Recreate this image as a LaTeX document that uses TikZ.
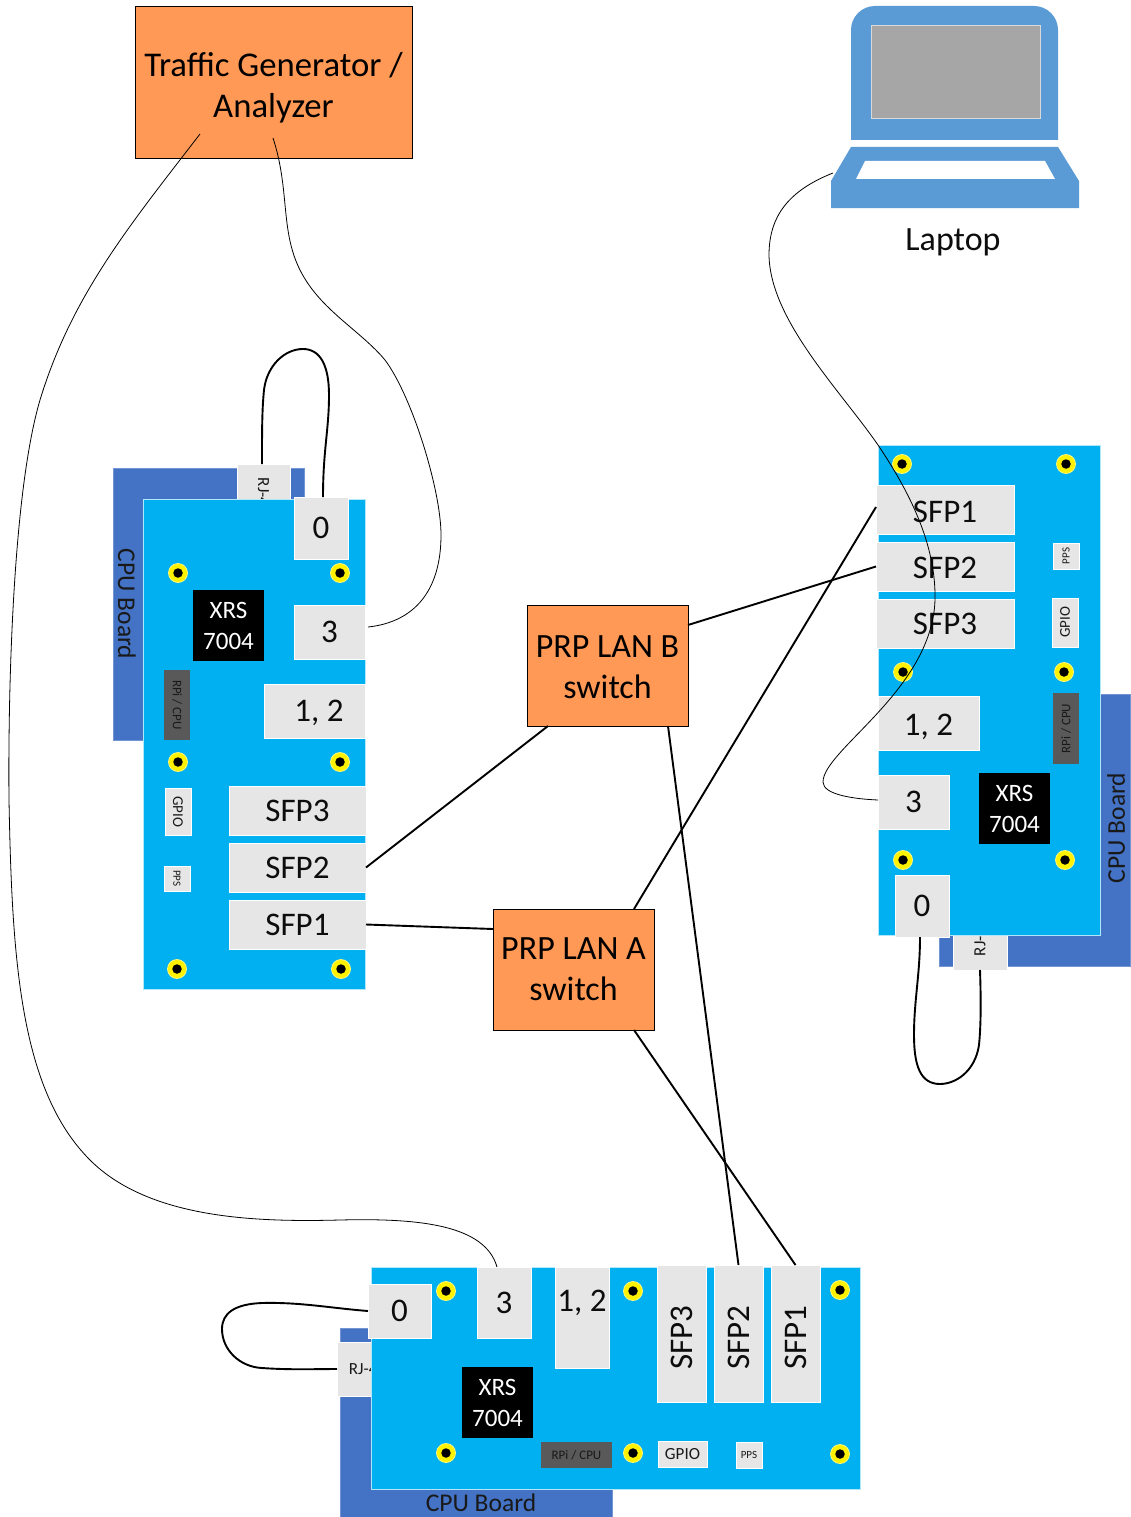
\documentclass[tikz,border=0pt]{standalone}
\usepackage{fontspec}
\setmainfont{Carlito}
\usetikzlibrary{calc}
\definecolor{pcb}{HTML}{00B0F0}
\definecolor{cpub}{HTML}{4472C4}
\definecolor{portc}{HTML}{E7E6E6}
\definecolor{org}{HTML}{FF9955}
\definecolor{lap}{HTML}{5B9BD5}
\definecolor{rpic}{HTML}{595959}
\newcommand\Bx[7][]{%
  \pgfmathsetmacro\bw{#5-#3}\pgfmathsetmacro\bh{#6-#4}%
  \pgfmathsetmacro\bx{(#3+#5)/2}\pgfmathsetmacro\by{(#4+#6)/2}%
  \node[box,minimum width=\bw pt,minimum height=\bh pt,#1] (#2) at (\bx,\by) {#7};}
\newcommand\Screw[3]{%
  \node[screwring] (#1) at (#2,#3) {};
  \node[screwhole] at (#1.center) {};}
\newcommand\RU[1]{\rotatebox{90}{#1}}
\newcommand\RD[1]{\rotatebox{-90}{#1}}
\tikzset{
  box/.style={rectangle,inner sep=0pt,outer sep=0pt,align=center},
  board/.style={fill=pcb,draw=white!70!pcb,line width=.6pt},
  cpuboard/.style={fill=cpub,draw=white!25!cpub,line width=.4pt},
  cpulabel/.style={box,font=\fontsize{25.5}{30}\selectfont,text=black!90},
  port/.style={fill=portc,draw=white,line width=.6pt,font=\fontsize{33}{40}\selectfont,text=black!95},
  rj/.style={fill=portc,draw=white,line width=.6pt,font=\fontsize{17}{20}\selectfont,text=black!90},
  small/.style={fill=portc,draw=white,line width=.6pt,text=black!90},
  rpi/.style={fill=rpic,font=\fontsize{13}{15}\selectfont,text=black!90},
  chip/.style={fill=black,text=white,font=\fontsize{25}{31}\selectfont},
  switchbox/.style={fill=org,draw=black,line width=.7pt,font=\fontsize{34}{41}\selectfont,text=black},
  screwring/.style={circle,inner sep=0pt,minimum size=19pt,fill=yellow,draw=white!50!yellow,line width=.8pt},
  screwhole/.style={circle,inner sep=0pt,minimum size=9.5pt,fill=black},
  link/.style={draw=black,line width=1.9pt},
  loopcable/.style={draw=black,line width=1.9pt},
  thincable/.style={draw=black,line width=.8pt},
}
\begin{document}
\begin{tikzpicture}[x=1pt,y=-1pt]
\useasboundingbox (0,0) rectangle (1131,1517);
\fill[white] (0,0) rectangle (1131,1517);

% Switches and analyzer
\Bx[switchbox,font=\fontsize{34.7}{41}\selectfont]{tg}{135}{6}{412}{158}{\rule{0pt}{36pt}Traffic Generator /\\Analyzer}
\Bx[switchbox]{lanb}{527}{605}{688}{726}{\rule{0pt}{25pt}PRP LAN B\\switch}
\Bx[switchbox]{lana}{493}{909}{654}{1030}{PRP LAN A\\switch}

% Laptop
\fill[lap] (851,140) -- (851,30) arc[start angle=180,end angle=270,radius=24] -- (1034,6) arc[start angle=270,end angle=360,radius=24] -- (1058,140) -- cycle;
\filldraw[fill=black!35,draw=white!85!black,line width=.6pt] (871,25) rectangle (1040,118);
\fill[lap] (851,147) -- (1058,147) -- (1079,181) -- (1079,208) -- (831,208) -- (831,181) -- cycle;
\fill[white] (865,161) -- (1045,161) -- (1055,179) -- (856,179) -- cycle;
\coordinate (laptopport) at (833,173);
\node[box,font=\fontsize{34}{40}\selectfont,text=black!95] (laptoplabel) at (953,242) {Laptop};

% Left board
\Bx[cpuboard]{lcpu}{113}{468}{304}{740}{}
\node[cpulabel] (lcpulabel) at (127,604) {\RD{CPU Board}};
\Bx[rj]{lrj}{237}{464}{290}{529}{\RD{RJ-45}}
\Bx[board]{lboard}{143}{499}{365}{989}{}
\Bx[port]{l0}{294}{497}{348}{559}{0}
\Bx[port]{l3}{294}{605}{365}{659}{3}
\Bx[port]{l12}{264}{684}{365}{738}{\hspace*{9pt}\rule{0pt}{25pt}1, 2}
\Bx[port]{lsfp3}{229}{786}{366}{835}{SFP3}
\Bx[port]{lsfp2}{229}{843}{366}{892}{SFP2}
\Bx[port]{lsfp1}{229}{900}{366}{949}{SFP1}
\Bx[chip]{lxrs}{193}{590}{264}{661}{XRS\\7004}
\Bx[rpi]{lrpi}{164}{670}{190}{740}{\RD{RPi / CPU}}
\Bx[small,font=\fontsize{15}{18}\selectfont]{lgpio}{165}{788}{191}{835}{\RD{GPIO}}
\Bx[small,font=\fontsize{11}{13}\selectfont]{lpps}{164}{866}{190}{891}{\RD{PPS}}
\Screw{ls1}{178}{573}\Screw{ls2}{340}{573}\Screw{ls3}{178}{762}
\Screw{ls4}{340}{762}\Screw{ls5}{177}{969}\Screw{ls6}{341}{969}

% Right board
\Bx[cpuboard]{rcpu}{939}{694}{1130}{966}{}
\node[cpulabel] (rcpulabel) at (1116,828) {\RU{CPU Board}};
\Bx[rj]{rrj}{953}{905}{1007}{970}{\RU{RJ-45}}
\Bx[board]{rboard}{878}{445}{1100}{935}{}
\Bx[port]{rsfp1}{876}{485}{1014}{534}{\rule{0pt}{27pt}SFP1}
\Bx[port]{rsfp2}{876}{542}{1014}{591}{\rule{0pt}{25pt}SFP2}
\Bx[port]{rsfp3}{876}{599}{1014}{648}{SFP3}
\Bx[port]{r12}{878}{696}{979}{750}{\rule{0pt}{29pt}1, 2}
\Bx[port]{r3}{878}{775}{949}{829}{3}
\Bx[port]{r0}{895}{875}{949}{937}{0}
\Bx[chip]{rxrs}{979}{773}{1050}{844}{XRS\\7004}
\Bx[rpi]{rrpi}{1053}{693}{1079}{764}{\RU{RPi / CPU}}
\Bx[small,font=\fontsize{15}{18}\selectfont]{rgpio}{1052}{598}{1078}{647}{\RU{GPIO}}
\Bx[small,font=\fontsize{11}{13}\selectfont]{rpps}{1053}{543}{1079}{569}{\RU{PPS}}
\Screw{rs1}{902}{464}\Screw{rs2}{1066}{464}\Screw{rs3}{903}{672}
\Screw{rs4}{1064}{672}\Screw{rs5}{903}{860}\Screw{rs6}{1065}{860}

% Bottom board
\Bx[cpuboard]{bcpu}{340}{1328}{612}{1530}{}
\node[cpulabel] (bcpulabel) at (481,1503) {CPU Board};
\Bx[rj]{brj}{337}{1342}{398}{1396}{RJ-45}
\Bx[board]{bboard}{371}{1267}{860}{1489}{}
\Bx[port]{b0}{368}{1284}{431}{1338}{0}
\Bx[port]{b3}{477}{1267}{531}{1338}{3}
\Bx[port]{b12}{555}{1267}{609}{1368}{}
\node[box,font=\fontsize{33}{40}\selectfont,text=black!95] (b12label) at (582,1303) {1, 2};
\Bx[port]{bsfp3}{657}{1265}{706}{1402}{\RU{SFP3\hspace*{8pt}}}
\Bx[port]{bsfp2}{714}{1265}{763}{1402}{\RU{SFP2\hspace*{8pt}}}
\Bx[port]{bsfp1}{771}{1265}{820}{1402}{\RU{SFP1\hspace*{8pt}}}
\Bx[chip]{bxrs}{462}{1367}{533}{1438}{XRS\\7004}
\Bx[rpi]{brpi}{541}{1442}{612}{1468}{RPi / CPU}
\Bx[small,font=\fontsize{17}{20}\selectfont]{bgpio}{658}{1441}{707}{1467}{GPIO}
\Bx[small,font=\fontsize{11}{13}\selectfont]{bpps}{736}{1442}{762}{1468}{PPS}
\Screw{bs1}{446}{1291}\Screw{bs2}{633}{1291}\Screw{bs3}{840}{1290}
\Screw{bs4}{446}{1453}\Screw{bs5}{633}{1453}\Screw{bs6}{840}{1454}

% Straight links
\draw[link] (lsfp2.east) -- ([xshift=21pt]lanb.south west);
\draw[link] (lsfp1.east) -- ([yshift=-20pt]lana.north west);
\draw[link] ([yshift=-20pt]lanb.north east) -- (rsfp2.west);
\draw[link] ([xshift=-20pt]lana.north east) -- ([yshift=2.5pt]rsfp1.west);
\draw[link] ([xshift=-20pt]lanb.south east) -- (bsfp2.north);
\draw[link] ([xshift=-20pt]lana.south east) -- (bsfp1.north);

% Loop cables
\draw[loopcable] ([xshift=-1.5pt]lrj.north) .. controls (262,430) and (262,410) .. (264,390) .. controls (267,365) and (285,349) .. (303,349) .. controls (320,349) and (329,365) .. (329,395) .. controls (329,430) and (323,450) .. ([xshift=2pt]l0.north);
\draw[loopcable] (rrj.south) .. controls (981,1000) and (981,1025) .. (979,1045) .. controls (975,1072) and (955,1084) .. (940,1084) .. controls (920,1084) and (914,1065) .. (914,1035) .. controls (914,1000) and (920,975) .. ([xshift=-2pt]r0.south);
\draw[loopcable] (b0.west) .. controls (330,1308) and (300,1302) .. (262,1303) .. controls (235,1304) and (222,1313) .. (222,1329) .. controls (222,1350) and (240,1367) .. (262,1368) .. controls (290,1370) and (315,1369) .. (brj.west);

% Thin cables
\draw[thincable] ([xshift=-73.5pt,yshift=24pt]tg.south) .. controls (130,225) and (72,295) .. (40,400) .. controls (12,495) and (8,700) .. (9,800) .. controls (12,960) and (20,1090) .. (90,1160) .. controls (150,1220) and (260,1222) .. (340,1220) .. controls (420,1218) and (485,1225) .. ([xshift=-7pt]b3.north);
\draw[thincable] ([xshift=-0.5pt,yshift=20pt]tg.south) .. controls (290,190) and (280,230) .. (300,270) .. controls (320,310) and (360,330) .. (385,360) .. controls (412,396) and (441,490) .. (441,535) .. controls (441,590) and (415,622) .. ([xshift=3pt,yshift=5pt]l3.east);
\draw[thincable] (laptopport) .. controls (790,190) and (769,215) .. (769,255) .. controls (770,320) and (840,390) .. (878,445) .. controls (915,500) and (936,550) .. (935,600) .. controls (932,690) and (823,750) .. (823,782) .. controls (823,795) and (855,799) .. ([yshift=2pt]r3.west);
\end{tikzpicture}
\end{document}
